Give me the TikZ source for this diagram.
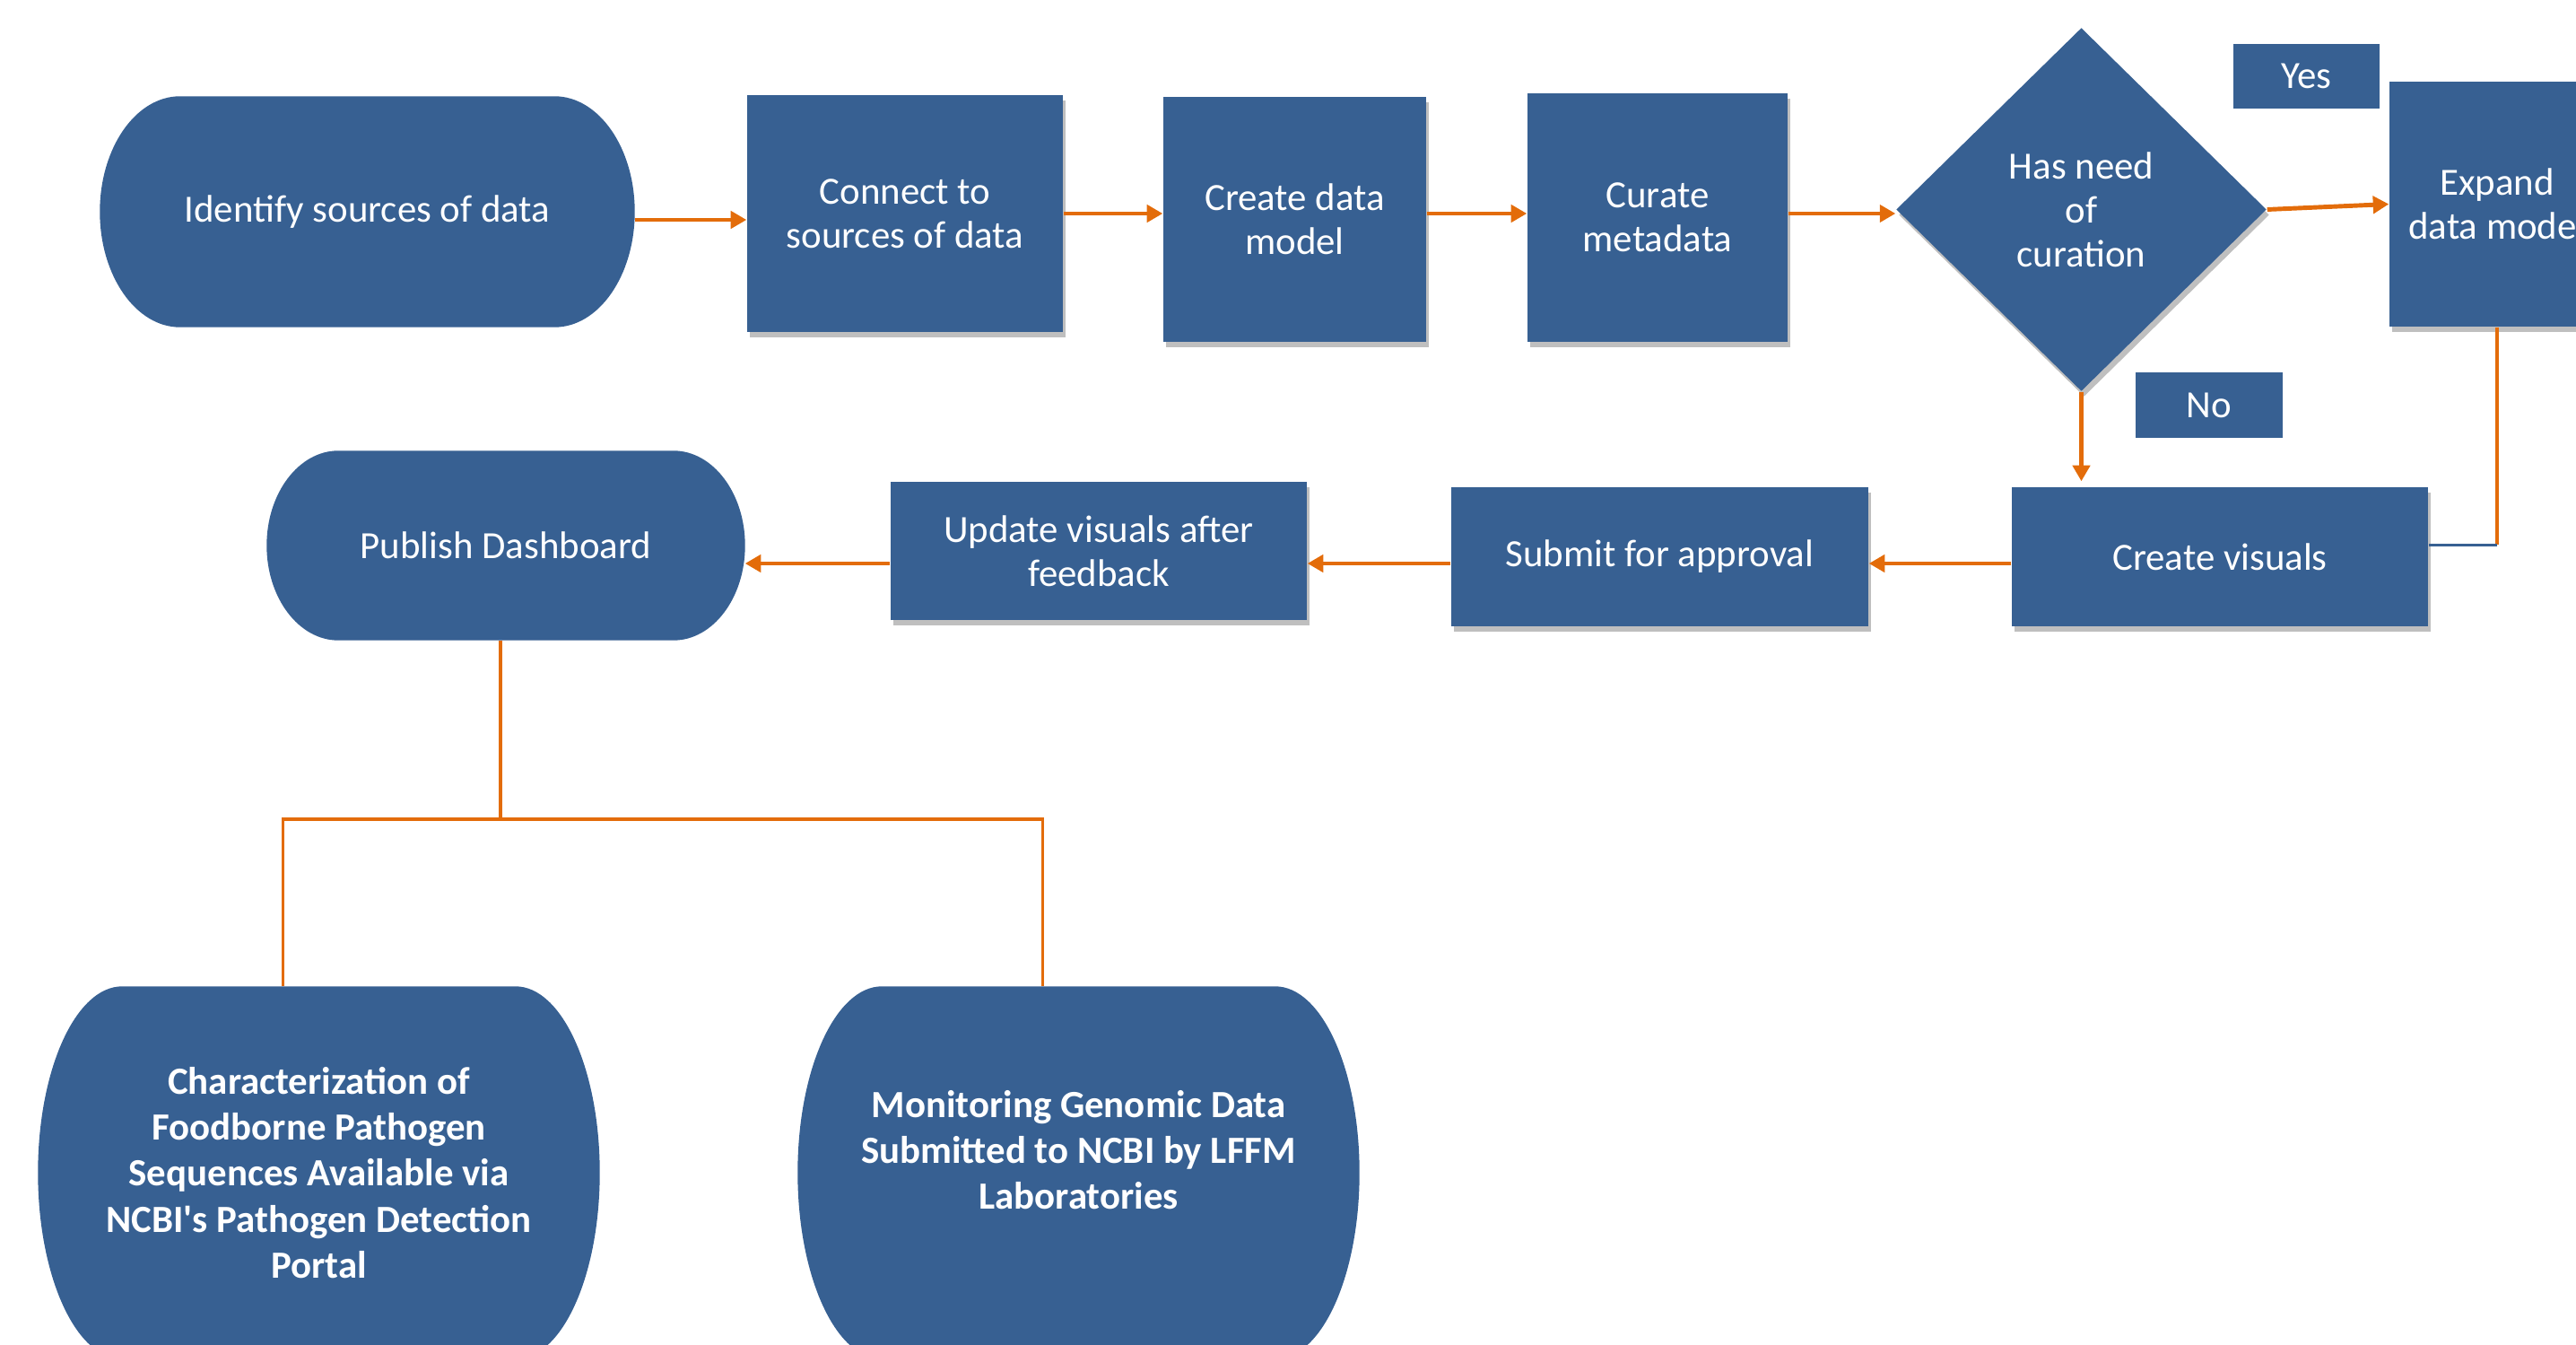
\documentclass[tikz,border=0pt]{standalone}
\usepackage{fontspec}
\setmainfont{Carlito}
\usetikzlibrary{positioning,calc,arrows.meta,shapes.geometric,backgrounds,shadows}
\definecolor{boxblue}{RGB}{55,96,146}
\definecolor{flow}{RGB}{227,108,10}
\tikzset{
  txt/.style   = {text=white, align=center, font=\fontsize{12.2}{14}\selectfont},
  term/.style  = {txt, rectangle, inner sep=0pt},
  bterm/.style = {term, font=\bfseries\fontsize{12.2}{14.6}\selectfont},
  pbox/.style  = {txt, rectangle, fill=boxblue, inner sep=2pt,
                  drop shadow={shadow xshift=0.3mm, shadow yshift=-0.6mm,
                  fill=black, opacity=0.25}},
  dbox/.style  = {txt, diamond, fill=boxblue, inner sep=0pt,
                  drop shadow={shadow xshift=0.3mm, shadow yshift=-0.6mm,
                  fill=black, opacity=0.25}},
  tag/.style   = {txt, rectangle, fill=boxblue, inner sep=0pt},
  link/.style  = {draw=flow, line width=1.4pt,
                  -{Triangle[length=5pt,width=5.4pt]}},
  tline/.style = {draw=flow, line width=1pt},
  bline/.style = {draw=boxblue, line width=1pt},
}
\newcommand{\termbg}[1]{%
  \fill[boxblue] let \p1=(#1.south west), \p2=(#1.north east),
    \n1={0.15*(\x2-\x1)}, \n2={0.5*(\y2-\y1)} in
    (\x1+\n1,\y2) -- (\x2-\n1,\y2)
    arc[start angle=90, end angle=-90, x radius=\n1, y radius=\n2]
    -- (\x1+\n1,\y1)
    arc[start angle=270, end angle=90, x radius=\n1, y radius=\n2] -- cycle;}

\begin{document}
\begin{tikzpicture}
  \useasboundingbox (0,0) rectangle (28.72,-14.99);
  % top row
  \node[term, minimum width=5.95cm, minimum height=2.56cm] (ident) at (4.095,-2.36) {Identify sources of data};
  \node[pbox, minimum width=3.52cm, minimum height=2.64cm] (connect) at (10.09,-2.38) {Connect to\\sources of data};
  \node[pbox, minimum width=2.93cm, minimum height=2.73cm] (model) at (14.435,-2.445) {Create data\\model};
  \node[pbox, minimum width=2.90cm, minimum height=2.77cm] (curate) at (18.48,-2.425) {Curate\\metadata};
  \node[dbox, minimum width=4.13cm, minimum height=4.05cm] (need) at (23.205,-2.335) {Has need\\of\\curation};
  \node[tag, minimum width=1.63cm, minimum height=0.72cm] (yes) at (25.715,-0.85) {Yes};
  \node[tag, minimum width=1.64cm, minimum height=0.73cm] (no) at (24.63,-4.515) {No};
  \node[pbox, minimum width=2.40cm, minimum height=2.73cm] (expand) at (27.84,-2.275) {Expand\\data model};
  % second row
  \node[pbox, minimum width=4.64cm, minimum height=1.55cm] (visuals) at (24.75,-6.205) {Create visuals};
  \node[pbox, minimum width=4.65cm, minimum height=1.55cm] (submit) at (18.505,-6.205) {Submit for approval};
  \node[pbox, minimum width=4.64cm, minimum height=1.54cm] (update) at (12.25,-6.14) {Update visuals after\\feedback};
  \node[term, minimum width=5.32cm, minimum height=2.10cm] (pub) at (5.64,-6.08) {Publish Dashboard};
  % dashboards
  \node[bterm, minimum width=6.25cm, minimum height=4.14cm] (charact) at (3.555,-13.07)
    {Characterization of\\Foodborne Pathogen\\Sequences Available via\\NCBI\textquotesingle s Pathogen Detection\\Portal};
  \node[bterm, minimum width=6.25cm, minimum height=4.14cm] (monitor) at (12.025,-13.07)
    {Monitoring Genomic Data\\Submitted to NCBI by LFFM\\Laboratories\\ \mbox{}};
  \coordinate (split) at (5.58,-9.13);
  \coordinate (back) at ([yshift=1.3mm]visuals.east);
  \coordinate (low) at ([yshift=-0.75mm]visuals.west);

  \begin{scope}[on background layer]
    \termbg{ident}
    \termbg{pub}
    \termbg{charact}
    \termbg{monitor}
  \end{scope}

  \draw[link] ([yshift=-0.9mm]ident.east) -- ([yshift=-0.9mm]ident.east -| connect.west);
  \draw[link] (connect.east) -- (connect.east -| model.west);
  \draw[link] (model.east |- connect.east) -- (curate.west |- connect.east);
  \draw[link] (curate.east |- connect.east) -- (need.west |- connect.east);
  \draw[link] (need.east) -- (expand.west);
  \draw[link] (need.south) -- ([yshift=0.6mm]need.south |- visuals.north);
  \draw[tline] (expand.south) -- (expand.south |- back);
  \draw[bline] (expand.south |- back) -- (back);
  \draw[link] (low) -- (low -| submit.east);
  \draw[link] (low -| submit.west) -- (low -| update.east);
  \draw[link] (low -| update.west) -- (low -| pub.east);
  \draw[tline] (pub.south -| split) -- (split);
  \draw[tline] ([xshift=-4mm]charact.north) |- (split) -| ([xshift=-4mm]monitor.north);
\end{tikzpicture}
\end{document}
